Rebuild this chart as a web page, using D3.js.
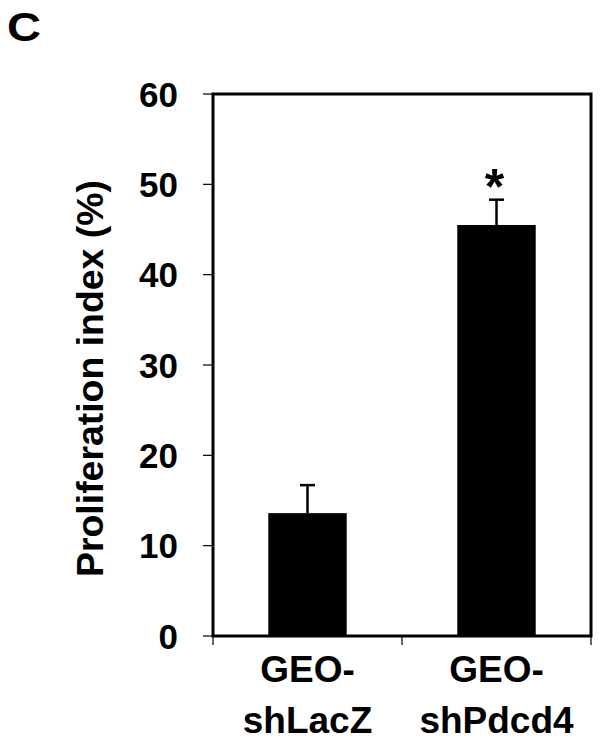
<!DOCTYPE html>
<html>
<head>
<meta charset="utf-8">
<script src="https://cdn.jsdelivr.net/npm/d3@7"></script>
<style>
  body { margin: 0; background: #fff; }
  text { font-family: "Liberation Sans", Arial, sans-serif; font-weight: bold; fill: #000; }
</style>
</head>
<body>
<svg id="chart" width="602" height="742"></svg>
<script>
"use strict"

// values
const groups = ["GEO-shLacZ", "GEO-shPdcd4"]
const groupLines = [["GEO-", "shLacZ"], ["GEO-", "shPdcd4"]]
const means = [13.6, 45.5]
const errs = [3.1, 2.8]
const marks = ["", "*"]
const yTicks = [0, 10, 20, 30, 40, 50, 60]

const svg = d3.select("#chart")
const m = { left: 213, top: 94, right: 591, bottom: 636 }

// one band per group, bar sits in the middle of it
const x = d3.scaleBand().domain(groups).range([m.left, m.right])
const barW = x.bandwidth() * 0.415
const cxOf = g => x(g) + x.bandwidth() / 2
const y = d3.scaleLinear().domain([0, 60]).range([m.bottom, m.top])

// panel letter
svg.append("text").attr("x", 7).attr("y", 41).style("font-size", "40px")
    .attr("textLength", 34).attr("lengthAdjust", "spacingAndGlyphs").text("C")

// y ticks + labels
svg.selectAll(".ytick").data(yTicks).join("line")
    .attr("x1", m.left - 10).attr("x2", m.left)
    .attr("y1", d => y(d)).attr("y2", d => y(d))
    .attr("stroke", "#000").attr("stroke-width", 1.2)
svg.selectAll(".ylab").data(yTicks).join("text")
    .attr("x", 178).attr("y", d => y(d)).attr("dy", "0.36em")
    .attr("text-anchor", "end").style("font-size", "35px")
    .text(d => d)

// x ticks at band edges
const xTickPos = groups.map(g => x(g)).concat([m.right])
svg.selectAll(".xtick").data(xTickPos).join("line")
    .attr("x1", d => d).attr("x2", d => d)
    .attr("y1", m.bottom).attr("y2", m.bottom + 9)
    .attr("stroke", "#000").attr("stroke-width", 1.2)

// bars
svg.selectAll(".bar").data(groups).join("rect")
    .attr("x", d => cxOf(d) - barW / 2).attr("width", barW)
    .attr("y", (d, i) => y(means[i])).attr("height", (d, i) => y(0) - y(means[i]))
    .attr("fill", "#000")

// error bars (upper only)
groups.forEach((g, i) => {
    const cx = cxOf(g)
    svg.append("line").attr("x1", cx).attr("x2", cx)
        .attr("y1", y(means[i])).attr("y2", y(means[i] + errs[i]))
        .attr("stroke", "#000").attr("stroke-width", 2.5)
    svg.append("line").attr("x1", cx - 7.5).attr("x2", cx + 7.5)
        .attr("y1", y(means[i] + errs[i])).attr("y2", y(means[i] + errs[i]))
        .attr("stroke", "#000").attr("stroke-width", 2.5)
    if (marks[i]) {
        svg.append("text").attr("x", cx - 2).attr("y", y(means[i] + errs[i]) + 4)
            .attr("text-anchor", "middle").style("font-size", "50px").text(marks[i])
    }
})

// frame
svg.append("rect").attr("x", m.left).attr("y", m.top)
    .attr("width", m.right - m.left).attr("height", m.bottom - m.top)
    .attr("fill", "none").attr("stroke", "#000").attr("stroke-width", 3)

// x labels
groups.forEach((g, i) => {
    const cx = cxOf(g)
    groupLines[i].forEach((t, k) => {
        svg.append("text").attr("x", cx).attr("y", 682 + k * 51)
            .attr("text-anchor", "middle").style("font-size", "37px").text(t)
    })
})

// y title
svg.append("text")
    .attr("transform", `translate(103,${(180 + 577) / 2}) rotate(-90)`)
    .attr("text-anchor", "middle").style("font-size", "36px")
    .attr("textLength", 397).attr("lengthAdjust", "spacingAndGlyphs")
    .text("Proliferation index (%)")
</script>
</body>
</html>
